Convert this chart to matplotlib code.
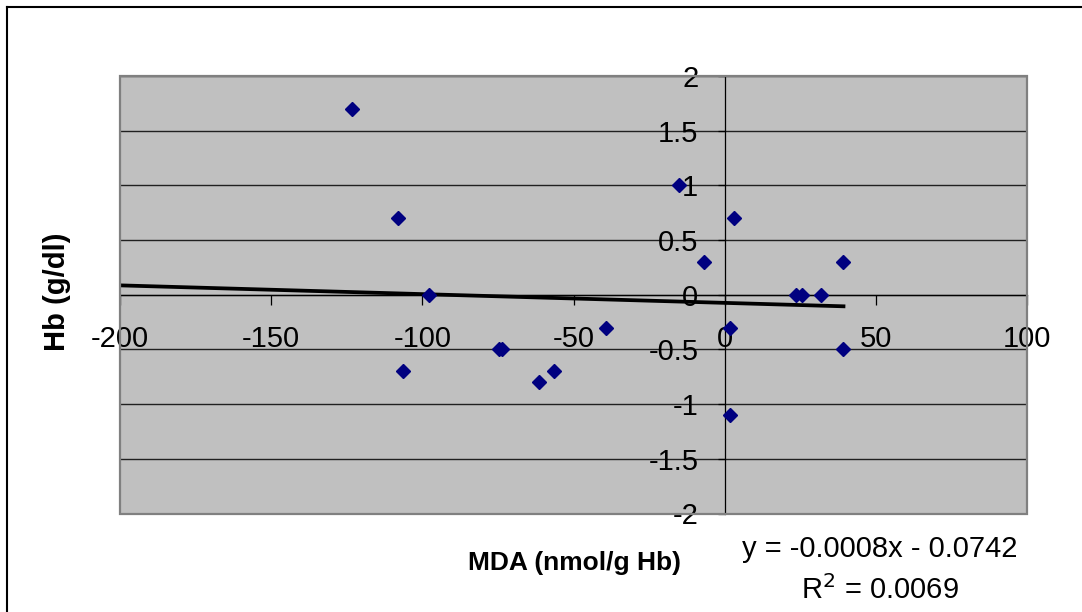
import matplotlib
matplotlib.use("Agg")
import matplotlib.pyplot as plt
from matplotlib.lines import Line2D
from matplotlib.patches import Rectangle

# MDA change vs Hb change
mda = [-123.3, -108.1, -97.8, -106.4, -15.0, 3.0, -7.0, 39.3,
       23.7, 25.5, 31.8, -74.7, -73.8, -61.5, -56.3, -39.4,
       1.9, 39.3, 1.9]
hb = [1.7, 0.7, 0.0, -0.7, 1.0, 0.7, 0.3, 0.3,
      0.0, 0.0, 0.0, -0.5, -0.5, -0.8, -0.7, -0.3,
      -0.3, -0.5, -1.1]

# linear trendline as printed on the chart
slope = -0.0008
intercept = -0.0742

xticks = [-200, -150, -100, -50, 0, 50, 100]
yticks = [-2, -1.5, -1, -0.5, 0, 0.5, 1, 1.5, 2]

plt.rcParams['font.family'] = ['Liberation Sans', 'DejaVu Sans']

W, H = 1082, 612
fig = plt.figure(figsize=(W / 100, H / 100), dpi=100)
ax = fig.add_axes([120 / W, 1 - 513.5 / H, 907 / W, 437.5 / H])
ax.set_facecolor('#C0C0C0')

ax.set_xlim(-200, 100)
ax.set_ylim(-2, 2)

# horizontal gridlines
for v in yticks:
    ax.axhline(v, color='#202020', lw=1.0, zorder=1)

# axes crossing at the origin
for s in ['top', 'right']:
    ax.spines[s].set_visible(False)
ax.spines['left'].set_position('zero')
ax.spines['bottom'].set_position('zero')
ax.spines['left'].set_color('black')
ax.spines['bottom'].set_color('black')
ax.spines['left'].set_linewidth(0.9)
ax.spines['bottom'].set_linewidth(0.9)

# gray plot-area frame
ax.add_patch(Rectangle((0, 0), 1, 1, transform=ax.transAxes, fill=False,
                       edgecolor='#808080', lw=1.6, zorder=5, clip_on=False))

ax.set_xticks(xticks)
ax.set_xticklabels([str(v) for v in xticks])
ax.set_yticks(yticks)
ax.set_yticklabels([('%g' % v) for v in yticks])
ax.tick_params(axis='x', direction='out', length=7, width=0.9, pad=15, labelsize=21)
ax.tick_params(axis='y', direction='out', length=5, width=0.9, pad=14, labelsize=21)

# trendline
x0, x1 = -200, max(mda)
ax.plot([x0, x1], [slope * x0 + intercept, slope * x1 + intercept],
        color='black', lw=2.7, zorder=3)

ax.plot(mda, hb, 'D', color='#000080', ms=7, zorder=4, clip_on=False)

fig.text(575 / W, 1 - 563 / H, 'MDA (nmol/g Hb)', ha='center', va='center',
         fontsize=19, fontweight='bold')
fig.text(57 / W, 1 - 292 / H, 'Hb (g/dl)', ha='center', va='center',
         rotation=90, fontsize=21, fontweight='bold')

fig.text(880 / W, 1 - 549 / H, 'y = -0.0008x - 0.0742', ha='center', va='center',
         fontsize=21)
fig.text(880 / W, 1 - 590 / H, 'R$^2$ = 0.0069', ha='center', va='center',
         fontsize=21)

# outer chart border (top and left edges visible)
fig.add_artist(Line2D([7 / W, 1.0], [1 - 7 / H, 1 - 7 / H], color='black', lw=1.5))
fig.add_artist(Line2D([7 / W, 7 / W], [0.0, 1 - 7 / H], color='black', lw=1.5))

fig.savefig('out.png', dpi=100)
